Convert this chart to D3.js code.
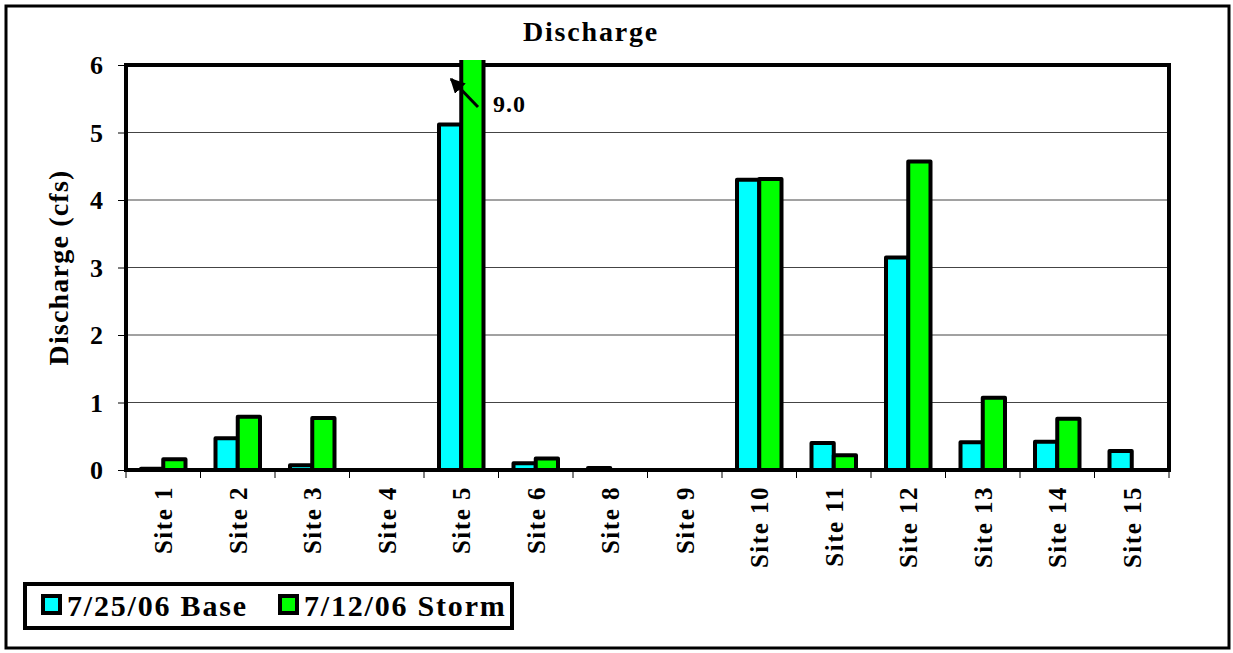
<!DOCTYPE html>
<html>
<head>
<meta charset="utf-8">
<script src="https://cdn.jsdelivr.net/npm/d3@7"></script>
<style>
body { margin: 0; background: #fff; }
text { font-family: "Liberation Serif", "DejaVu Serif", serif; font-weight: bold; fill: #000; }
</style>
</head>
<body>
<svg id="chart" width="1233" height="653"></svg>
<script>
var sites = ["Site 1","Site 2","Site 3","Site 4","Site 5","Site 6","Site 8","Site 9","Site 10","Site 11","Site 12","Site 13","Site 14","Site 15"];
var baseVals  = [0.02, 0.47, 0.07, null, 5.12, 0.10, 0.03, null, 4.30, 0.40, 3.15, 0.41, 0.42, 0.28];
var stormVals = [0.16, 0.79, 0.77, null, 9.0, 0.17, null, null, 4.31, 0.22, 4.57, 1.07, 0.76, null];
var seriesNames = ["7/25/06 Base", "7/12/06 Storm"];
var seriesColors = ["#00ffff", "#00ff00"];
var yTicks = [0, 1, 2, 3, 4, 5, 6];

var svg = d3.select("#chart");
var pL = 126, pR = 1169, pT = 65, pB = 470;

// outer frame
svg.append("rect").attr("x", 6).attr("y", 6).attr("width", 1223).attr("height", 642)
	.attr("fill", "none").attr("stroke", "#000").attr("stroke-width", 3);

var x = d3.scaleBand().domain(sites).range([pL, pR]);
var x1 = d3.scaleBand().domain([0, 1]).range([15, x.bandwidth() - 15]);
var y = d3.scaleLinear().domain([0, 6]).range([pB, pT]);

// gridlines
svg.append("g").selectAll("line").data(yTicks.slice(1, 6)).enter().append("line")
	.attr("x1", pL).attr("x2", pR)
	.attr("y1", function(d){ return y(d); }).attr("y2", function(d){ return y(d); })
	.attr("stroke", "#444").attr("stroke-width", 1);

// plot frame
svg.append("rect").attr("x", pL).attr("y", pT).attr("width", pR - pL).attr("height", pB - pT)
	.attr("fill", "none").attr("stroke", "#000").attr("stroke-width", 4);

// bars (values above 6 run off the top and are clipped)
svg.append("clipPath").attr("id", "clip").append("rect")
	.attr("x", 0).attr("y", pT - 5).attr("width", 1233).attr("height", 600);
var rows = [];
for (var i = 0; i < sites.length; i++){
	if (baseVals[i] != null) rows.push({site: sites[i], s: 0, v: baseVals[i]});
	if (stormVals[i] != null) rows.push({site: sites[i], s: 1, v: stormVals[i]});
}
svg.append("g").attr("clip-path", "url(#clip)").selectAll("rect").data(rows).enter().append("rect")
	.attr("x", function(d){ return x(d.site) + x1(d.s); })
	.attr("width", x1.bandwidth())
	.attr("y", function(d){ return y(d.v); })
	.attr("height", function(d){ return pB - y(d.v); })
	.attr("fill", function(d){ return seriesColors[d.s]; })
	.attr("stroke", "#000").attr("stroke-width", 4).attr("stroke-linejoin", "round");

// y axis
var yAxis = svg.append("g").attr("transform", "translate(" + pL + ",0)")
	.call(d3.axisLeft(y).tickValues(yTicks).tickSize(8).tickPadding(15).tickFormat(d3.format("d")));
yAxis.select(".domain").remove();
yAxis.selectAll("line").attr("stroke", "#000");
yAxis.selectAll("text").style("font-size", "26px").style("font-family", "Liberation Serif, serif")
	.style("font-weight", "bold").attr("dy", "0.34em");

// x axis ticks and labels
svg.append("g").selectAll("line").data(d3.range(sites.length + 1)).enter().append("line")
	.attr("x1", function(i){ return pL + i * x.bandwidth(); })
	.attr("x2", function(i){ return pL + i * x.bandwidth(); })
	.attr("y1", pB).attr("y2", pB + 8).attr("stroke", "#000").attr("stroke-width", 1);
svg.append("g").selectAll("text").data(sites).enter().append("text")
	.attr("transform", function(d){ return "translate(" + (x(d) + x.bandwidth() / 2 + 9) + "," + (pB + 16) + ") rotate(-90)"; })
	.attr("text-anchor", "end")
	.style("font-size", "25px").style("letter-spacing", "1.5px")
	.text(function(d){ return d; });

// title and axis label
svg.append("text").attr("x", 591).attr("y", 41).attr("text-anchor", "middle")
	.style("font-size", "28px").style("letter-spacing", "1.8px").text("Discharge");
svg.append("text").attr("transform", "translate(68," + ((pT + pB) / 2) + ") rotate(-90)")
	.attr("text-anchor", "middle").style("font-size", "28px").style("letter-spacing", "1.2px").text("Discharge (cfs)");

// annotation arrow
svg.append("defs").append("marker").attr("id", "arr").attr("viewBox", "0 0 10 10")
	.attr("refX", 9).attr("refY", 5).attr("markerWidth", 5).attr("markerHeight", 5)
	.attr("orient", "auto").append("path").attr("d", "M0,0 L10,5 L0,10 z").attr("fill", "#000");
svg.append("line").attr("x1", 478).attr("y1", 107).attr("x2", 451).attr("y2", 79)
	.attr("stroke", "#000").attr("stroke-width", 3).attr("marker-end", "url(#arr)");
svg.append("text").attr("x", 493).attr("y", 112).style("font-size", "24px").style("letter-spacing", "1px").text("9.0");

// legend
var lg = svg.append("g");
lg.append("rect").attr("x", 25).attr("y", 584).attr("width", 487).attr("height", 44)
	.attr("fill", "#fff").attr("stroke", "#000").attr("stroke-width", 4);
var lx = [43, 280];
seriesNames.forEach(function(n, i){
	lg.append("rect").attr("x", lx[i]).attr("y", 596).attr("width", 17).attr("height", 17)
		.attr("fill", seriesColors[i]).attr("stroke", "#000").attr("stroke-width", 4);
	lg.append("text").attr("x", lx[i] + 24).attr("y", 616).style("font-size", "30px")
		.style("letter-spacing", "1.8px").text(n);
});
</script>
</body>
</html>
